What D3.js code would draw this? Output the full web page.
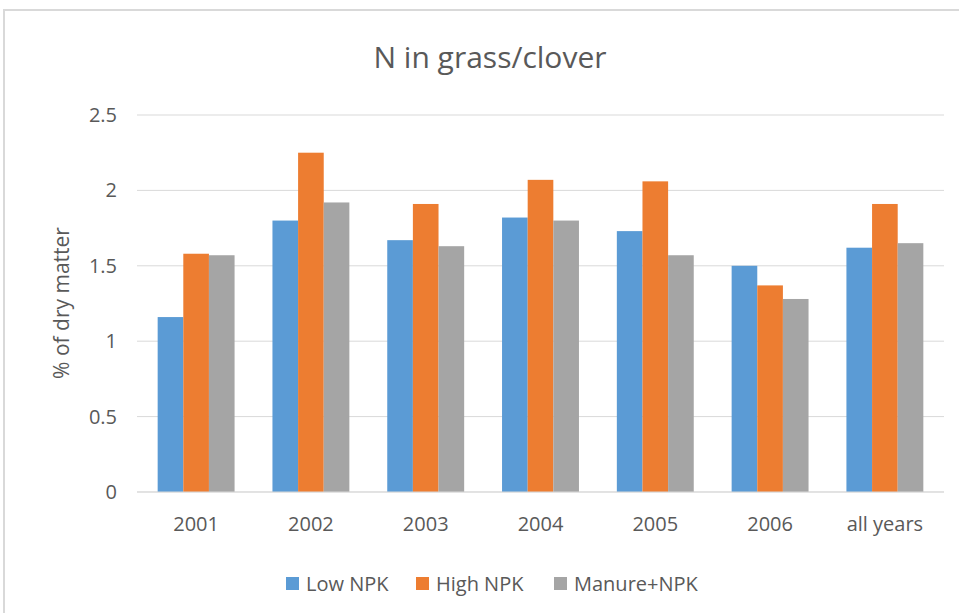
<!DOCTYPE html>
<html>
<head>
<meta charset="utf-8">
<script src="https://cdn.jsdelivr.net/npm/d3@7"></script>
<style>
  body { margin: 0; background: #fff; }
  svg text { font-family: "Open Sans", "Liberation Sans", sans-serif; fill: #595959; }
</style>
</head>
<body>
<div id="content"></div>
<script>
// Data
var years = ["2001", "2002", "2003", "2004", "2005", "2006", "all years"];
var series = ["Low NPK", "High NPK", "Manure+NPK"];
var lowNPK    = [1.16, 1.80, 1.67, 1.82, 1.73, 1.50, 1.62];
var highNPK   = [1.58, 2.25, 1.91, 2.07, 2.06, 1.37, 1.91];
var manureNPK = [1.57, 1.92, 1.63, 1.80, 1.57, 1.28, 1.65];
var yTicks = [0, 0.5, 1, 1.5, 2, 2.5];

var colors = ["#5B9BD5", "#ED7D31", "#A5A5A5"];
var values = [lowNPK, highNPK, manureNPK];

function drawChart() {
  var width = 959, height = 613;
  var svg = d3.select("#content").append("svg")
      .attr("width", width)
      .attr("height", height);

  // cadre du graphique
  svg.append("rect")
      .attr("x", 4).attr("y", 10)
      .attr("width", 980).attr("height", 640)
      .attr("fill", "#fff")
      .attr("stroke", "#d9d9d9")
      .attr("stroke-width", 2);

  var plotLeft = 137, plotRight = 944, plotTop = 115, plotBottom = 492;

  var x = d3.scaleBand().domain(years).range([plotLeft, plotRight]).paddingInner(0.33).paddingOuter(0.18);
  var xs = d3.scaleBand().domain(series).range([0, x.bandwidth()]);
  var y = d3.scaleLinear().domain([0, 2.5]).range([plotBottom, plotTop]);

  // gridlines
  svg.append("g")
    .selectAll("line")
    .data(yTicks)
    .join("line")
      .attr("x1", plotLeft).attr("x2", plotRight)
      .attr("y1", d => y(d)).attr("y2", d => y(d))
      .attr("stroke", "#d9d9d9")
      .attr("stroke-width", 1);

  // y tick labels
  svg.append("g")
    .selectAll("text")
    .data(yTicks)
    .join("text")
      .attr("x", 117)
      .attr("y", d => y(d) + 7)
      .attr("text-anchor", "end")
      .style("font-size", "20px")
      .text(d => d);

  // bars
  var rows = [];
  years.forEach((yr, i) => series.forEach((s, j) => rows.push({year: yr, series: s, value: values[j][i], k: j})));

  svg.append("g")
    .selectAll("rect")
    .data(rows)
    .join("rect")
      .attr("x", d => x(d.year) + xs(d.series))
      .attr("y", d => y(d.value))
      .attr("width", xs.bandwidth())
      .attr("height", d => y(0) - y(d.value))
      .attr("fill", d => colors[d.k]);

  // x axis line
  svg.append("line")
      .attr("x1", plotLeft).attr("x2", plotRight)
      .attr("y1", y(0)).attr("y2", y(0))
      .attr("stroke", "#d9d9d9");

  // x labels
  svg.append("g")
    .selectAll("text")
    .data(years)
    .join("text")
      .attr("x", d => x(d) + x.bandwidth() / 2)
      .attr("y", 531)
      .attr("text-anchor", "middle")
      .style("font-size", "20px")
      .text(d => d);

  // title
  svg.append("text")
      .attr("x", 490).attr("y", 68)
      .attr("text-anchor", "middle")
      .style("font-size", "30px")
      .text("N in grass/clover");

  // y axis title
  svg.append("text")
      .attr("transform", "translate(69,303) rotate(-90)")
      .attr("text-anchor", "middle")
      .style("font-size", "21px")
      .text("% of dry matter");

  // legend
  var legendX = [286, 416, 554];
  var legend = svg.append("g")
    .selectAll("g")
    .data(series)
    .join("g")
      .attr("transform", (d, i) => "translate(" + legendX[i] + ",577)");

  legend.append("rect")
      .attr("width", 13).attr("height", 13)
      .attr("fill", (d, i) => colors[i]);

  legend.append("text")
      .attr("x", 20).attr("y", 14)
      .style("font-size", "20px")
      .text(d => d);
}

drawChart();
</script>
</body>
</html>
